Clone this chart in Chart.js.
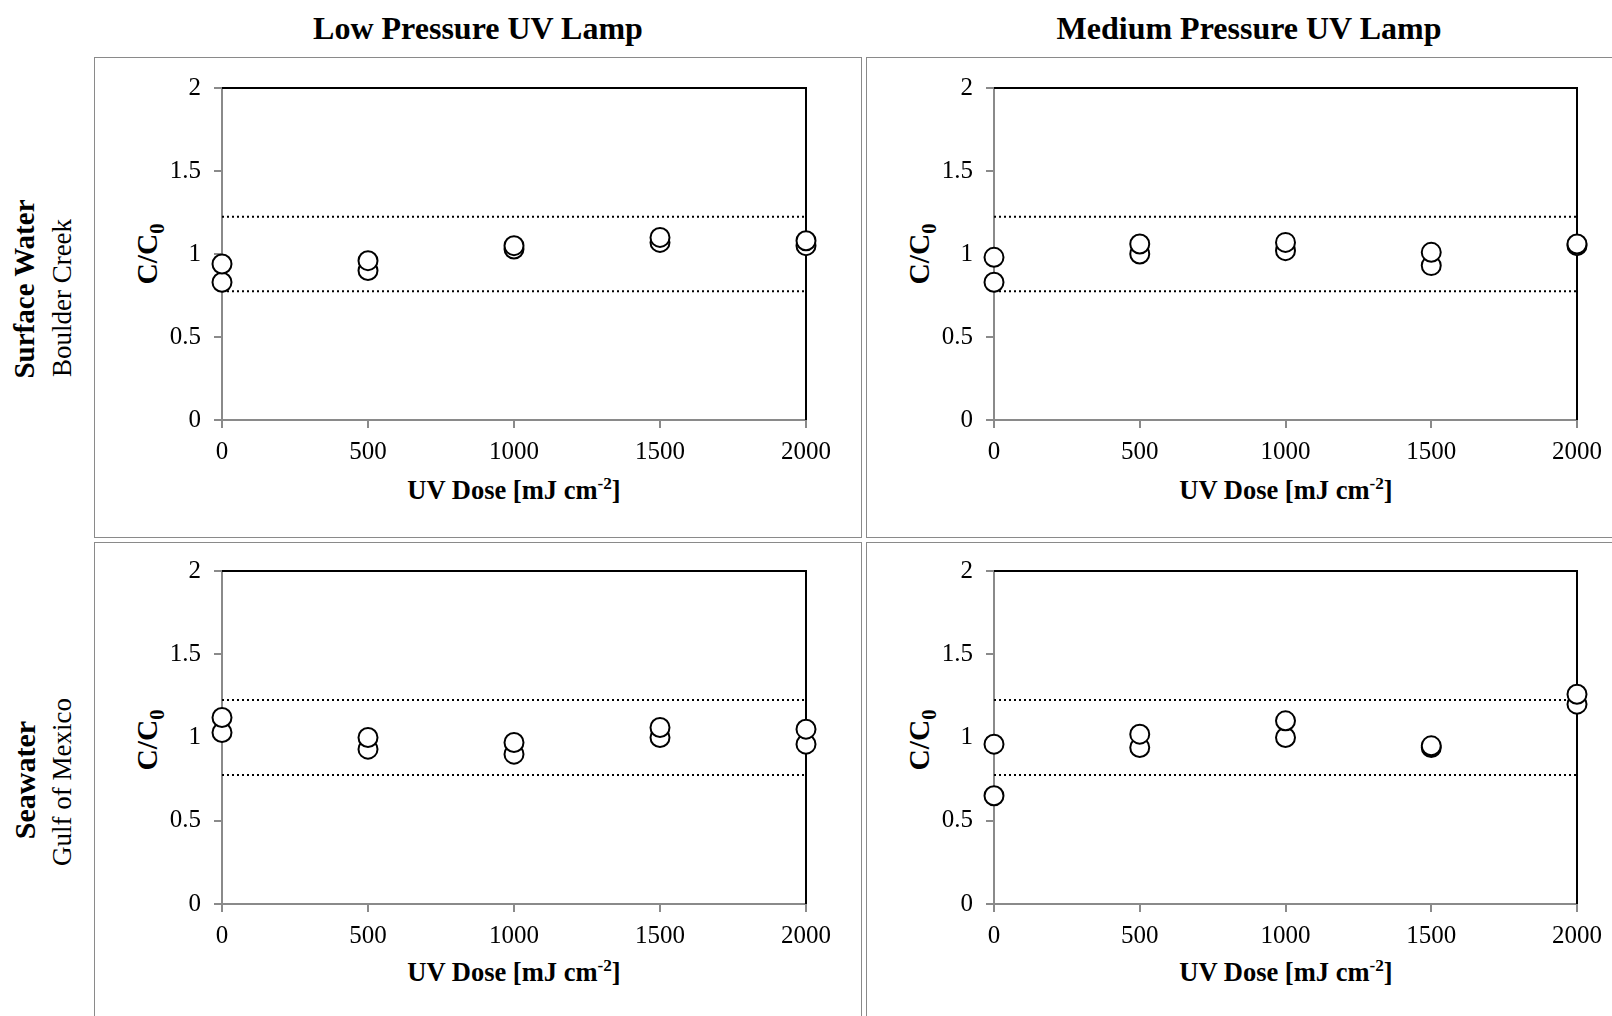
<!DOCTYPE html>
<html>
<head>
<meta charset="UTF-8">
<title>UV Lamp C/C0</title>
<script src="https://cdn.jsdelivr.net/npm/chart.js"></script>
<style>
html, body { margin: 0; padding: 0; background: #fff; }
body { width: 1612px; height: 1016px; position: relative; overflow: hidden; font-family: "Liberation Serif", serif; color: #000; }
.box { position: absolute; border: 1.5px solid #8a8a8a; box-sizing: border-box; }
.txt { position: absolute; white-space: nowrap; transform: translate(-50%, -50%); line-height: 1; }
.rot { transform: translate(-50%, -50%) rotate(-90deg); }
.coltitle { font-weight: bold; font-size: 32px; }
.axt { font-weight: bold; font-size: 26.5px; }
.cc { font-weight: bold; font-size: 29.5px; }
.cc sub { font-size: 70%; }
.big { font-weight: bold; font-size: 29px; }
.sea { font-weight: bold; font-size: 30px; }
.small { font-size: 27px; }
sub, sup { font-size: 65%; line-height: 0; }
canvas { position: absolute; }
</style>
</head>
<body>

<div class="box" style="left:94px; top:57px; width:768px; height:481px;"></div>
<div class="box" style="left:866px; top:57px; width:760px; height:481px;"></div>
<div class="box" style="left:94px; top:542px; width:768px; height:500px;"></div>
<div class="box" style="left:866px; top:542px; width:760px; height:500px;"></div>

<div class="txt coltitle" style="left:478px; top:28px;">Low Pressure UV Lamp</div>
<div class="txt coltitle" style="left:1249px; top:28px;">Medium Pressure UV Lamp</div>

<div class="txt rot big" style="left:24px; top:289px;">Surface Water</div>
<div class="txt rot small" style="left:62px; top:298px;">Boulder Creek</div>
<div class="txt rot sea" style="left:25px; top:780px;">Seawater</div>
<div class="txt rot small" style="left:62px; top:782px;">Gulf of Mexico</div>

<div class="txt rot cc" style="left:148px; top:254px;">C/C<sub>0</sub></div>
<div class="txt rot cc" style="left:920px; top:254px;">C/C<sub>0</sub></div>
<div class="txt rot cc" style="left:148px; top:740px;">C/C<sub>0</sub></div>
<div class="txt rot cc" style="left:920px; top:740px;">C/C<sub>0</sub></div>

<div class="txt axt" style="left:514px; top:490px;">UV Dose [mJ cm<sup>-2</sup>]</div>
<div class="txt axt" style="left:1286px; top:490px;">UV Dose [mJ cm<sup>-2</sup>]</div>
<div class="txt axt" style="left:514px; top:972px;">UV Dose [mJ cm<sup>-2</sup>]</div>
<div class="txt axt" style="left:1286px; top:972px;">UV Dose [mJ cm<sup>-2</sup>]</div>

<canvas id="lpSurface"></canvas>
<canvas id="mpSurface"></canvas>
<canvas id="lpSea"></canvas>
<canvas id="mpSea"></canvas>

<script>
// UV doses (mJ/cm2)
const doses = [0, 500, 1000, 1500, 2000];
const xTickLabels = ['0', '500', '1000', '1500', '2000'];
const yTickLabels = ['0', '0.5', '1', '1.5', '2'];

// C/C0, two replicates per dose
const lpSurfaceA = [0.94, 0.96, 1.05, 1.10, 1.08];
const lpSurfaceB = [0.83, 0.90, 1.03, 1.07, 1.05];
const mpSurfaceA = [0.98, 1.06, 1.07, 1.01, 1.06];
const mpSurfaceB = [0.83, 1.00, 1.02, 0.93, 1.05];
const lpSeaA = [1.12, 1.00, 0.97, 1.06, 1.05];
const lpSeaB = [1.03, 0.93, 0.90, 1.00, 0.96];
const mpSeaA = [0.96, 1.02, 1.10, 0.95, 1.26];
const mpSeaB = [0.65, 0.94, 1.00, 0.94, 1.20];

// dotted band
const upperBound = 1.225;
const lowerBound = 0.775;

Chart.defaults.font.family = '"Liberation Serif", serif';
Chart.defaults.color = '#000';

const frame = {
  id: 'frame',
  beforeDatasetsDraw(chart) {
    const a = chart.chartArea, c = chart.ctx;
    c.save();
    c.strokeStyle = '#000';
    c.lineWidth = 2;
    c.beginPath();
    c.moveTo(a.left, a.top);
    c.lineTo(a.right, a.top);
    c.lineTo(a.right, a.bottom);
    c.stroke();
    c.restore();
  }
};

function toPts(ys) {
  return doses.map((d, i) => ({ x: d, y: ys[i] }));
}

function band(y) {
  return {
    type: 'line',
    data: [{ x: doses[0], y: y }, { x: doses[doses.length - 1], y: y }],
    borderColor: '#000',
    borderWidth: 2,
    borderDash: [2, 3],
    pointRadius: 0,
    fill: false
  };
}

function panel(id, left, top, w, h, a, b) {
  const cv = document.getElementById(id);
  const padL = 120, padR = 40, padT = 40, padB = 60;
  cv.width = w + padL + padR;
  cv.height = h + padT + padB;
  cv.style.left = (left - padL) + 'px';
  cv.style.top = (top - padT) + 'px';

  const pt = {
    type: 'scatter',
    pointStyle: 'circle',
    pointRadius: 9.5,
    pointBackgroundColor: '#fff',
    pointBorderColor: '#000',
    pointBorderWidth: 2,
    clip: false
  };

  new Chart(cv, {
    type: 'scatter',
    data: {
      datasets: [
        Object.assign({ data: toPts(a) }, pt),
        Object.assign({ data: toPts(b) }, pt),
        band(upperBound),
        band(lowerBound)
      ]
    },
    options: {
      responsive: false,
      animation: false,
      layout: { padding: { left: 0, right: padR, top: padT, bottom: 0 } },
      plugins: { legend: { display: false }, tooltip: { enabled: false } },
      scales: {
        x: {
          type: 'linear', min: 0, max: 2000,
          afterFit(s) { s.height = padB; },
          afterBuildTicks(s) { s.ticks = doses.map(v => ({ value: v })); },
          ticks: { font: { size: 25 }, padding: 9, maxRotation: 0,
            callback: (v, i) => xTickLabels[i] },
          grid: { drawOnChartArea: false, drawTicks: true, tickLength: 8, color: '#8a8a8a', lineWidth: 2 },
          border: { color: '#8a8a8a', width: 2 }
        },
        y: {
          type: 'linear', min: 0, max: 2,
          afterFit(s) { s.width = padL; },
          ticks: { stepSize: 0.5, font: { size: 25 }, padding: 13,
            callback: (v, i) => yTickLabels[i] },
          grid: { drawOnChartArea: false, drawTicks: true, tickLength: 8, color: '#8a8a8a', lineWidth: 2 },
          border: { color: '#8a8a8a', width: 2 }
        }
      }
    },
    plugins: [frame]
  });
}

panel('lpSurface', 222, 88, 584, 332, lpSurfaceA, lpSurfaceB);
panel('mpSurface', 994, 88, 583, 332, mpSurfaceA, mpSurfaceB);
panel('lpSea', 222, 571, 584, 333, lpSeaA, lpSeaB);
panel('mpSea', 994, 571, 583, 333, mpSeaA, mpSeaB);
</script>
</body>
</html>
